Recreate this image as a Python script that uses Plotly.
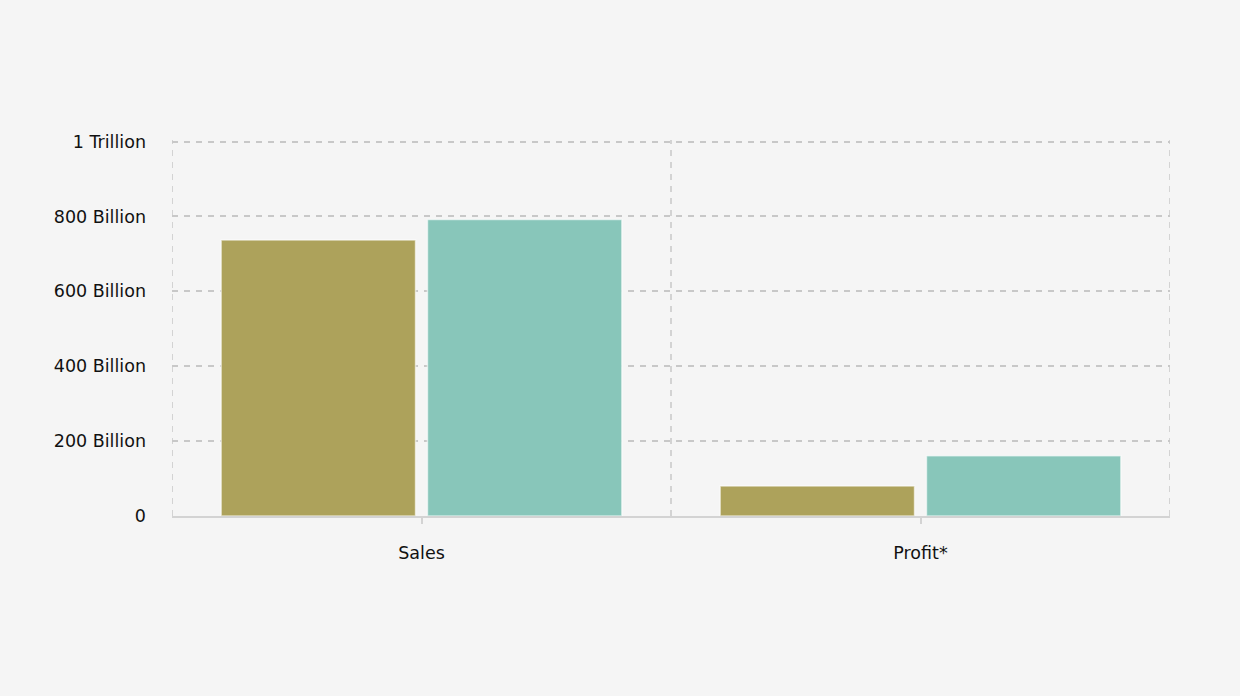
import plotly.graph_objects as go

# Datos
categorias = ["Sales", "Profit*"]
serie_a = [737e9, 80e9]
serie_b = [792e9, 161e9]
tick_vals = [0, 200e9, 400e9, 600e9, 800e9, 1e12]
tick_text = ["0", "200 Billion", "400 Billion", "600 Billion", "800 Billion", "1 Trillion"]

fondo = "#f5f5f5"
gris_grid = "#c8c8c8"

fig = go.Figure()
fig.add_trace(go.Bar(
    x=categorias, y=serie_a, name="A",
    marker=dict(color="#ada25b", line=dict(color="rgba(255,255,255,0.6)", width=1.5)),
))
fig.add_trace(go.Bar(
    x=categorias, y=serie_b, name="B",
    marker=dict(color="#88c6ba", line=dict(color="rgba(255,255,255,0.6)", width=1.5)),
))

# lineas verticales punteadas en los limites de cada categoria
for i in range(len(categorias) + 1):
    fig.add_shape(type="line", xref="x", yref="paper",
                  x0=i - 0.5, x1=i - 0.5, y0=0, y1=1,
                  line=dict(color=gris_grid, width=1.5, dash="6px,6px"), layer="below")

fig.update_layout(
    width=1240, height=696,
    paper_bgcolor=fondo, plot_bgcolor=fondo,
    margin=dict(l=172, r=70, t=140, b=180),
    showlegend=False,
    barmode="group", bargap=0.173, bargroupgap=0.058,
    font=dict(family="DejaVu Sans", size=17.5, color="#111111"),
    xaxis=dict(
        showgrid=False, showline=True, linecolor="#d3d3d3", linewidth=2,
        ticks="outside", ticklen=6, tickcolor="#d3d3d3", tickwidth=2,
        range=[-0.5, 1.5], ticklabelstandoff=14,
    ),
    yaxis=dict(
        range=[0, 1.004e12], tickvals=tick_vals, ticktext=tick_text,
        showgrid=True, gridcolor=gris_grid, griddash="6px,6px", gridwidth=1.5,
        zeroline=False, ticks="", ticklabelstandoff=25,
    ),
)

fig.write_html("out.html", config={"displayModeBar": False},
               post_script="document.body.style.margin='0';document.body.style.background='#f5f5f5';")
